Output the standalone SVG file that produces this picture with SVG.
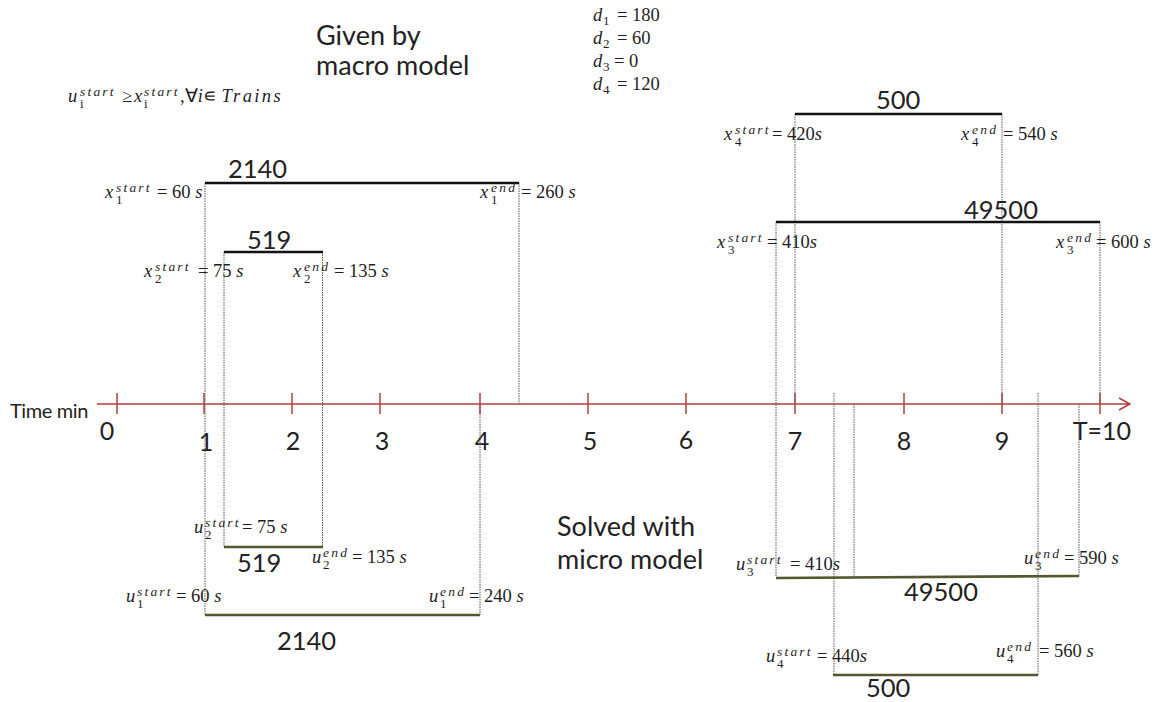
<svg xmlns="http://www.w3.org/2000/svg" width="1164" height="702" viewBox="0 0 1164 702">
<style>
.m{font-family:"Liberation Serif",serif;font-size:18.5px;fill:#1e1e1e}
.i{font-style:italic}
.sc{font-size:13.5px;font-style:italic;letter-spacing:2.2px}
.sb{font-size:13px;font-style:normal;letter-spacing:0}
.t{font-family:Lato,"Liberation Sans",sans-serif;fill:#222}
.big{font-size:25.5px}
.ax{font-size:25px;text-anchor:middle}
.lg{font-size:27px}
.vl{stroke:#555;stroke-width:1;stroke-dasharray:1.5 1;fill:none}
.xl{stroke:#111;stroke-width:2.6}
.ul{stroke:#55562f;stroke-width:2.6}
.axis{stroke:#b0413e;stroke-width:1.5;fill:none}
</style>
<rect width="1164" height="702" fill="#fff"/>

<g id="notes">
<text class="t lg" x="316" y="45">Given by</text>
<text class="t lg" x="316" y="75">macro model</text>
<text class="t lg" x="557" y="536">Solved with</text>
<text class="t lg" x="557" y="569">micro model</text>
<text class="m" x="68" y="102" font-size="17.5"><tspan class="i">u</tspan><tspan class="sc" x="80" y="96">start</tspan><tspan class="sb" x="80" y="108">i</tspan><tspan x="122" y="102">≥</tspan><tspan class="i" x="134" y="102">x</tspan><tspan class="sc" x="144" y="96">start</tspan><tspan class="sb" x="144" y="108">i</tspan><tspan x="180" y="102">,∀</tspan><tspan class="i">i</tspan><tspan>∊ </tspan><tspan class="i" letter-spacing="2.4">Trains</tspan></text>
<text class="m" x="593" y="21"><tspan class="i">d</tspan><tspan class="sb" x="603" y="25">1</tspan><tspan x="617" y="21">= 180</tspan></text>
<text class="m" x="593" y="44"><tspan class="i">d</tspan><tspan class="sb" x="603" y="48">2</tspan><tspan x="617" y="44">= 60</tspan></text>
<text class="m" x="593" y="67"><tspan class="i">d</tspan><tspan class="sb" x="603" y="71">3</tspan><tspan x="614" y="67">= 0</tspan></text>
<text class="m" x="593" y="90"><tspan class="i">d</tspan><tspan class="sb" x="603" y="94">4</tspan><tspan x="617" y="90">= 120</tspan></text>
</g>

<g id="axis">
<text class="t" x="10" y="418" font-size="20" letter-spacing="-0.4">Time min</text>
<path class="axis" d="M97 404H1130M1119 398L1130 404L1119 410"/>
<path class="axis" d="M117 393V414M204 393V414M292 393V414M380 393V414M480 393V414M588 393V414M686 393V414M795 393V414M904 393V414M1002 393V414M1100 393V414"/>
<text class="t ax" x="107" y="440">0</text>
<text class="t ax" x="206" y="451">1</text>
<text class="t ax" x="293" y="450">2</text>
<text class="t ax" x="382" y="450">3</text>
<text class="t ax" x="482" y="450">4</text>
<text class="t ax" x="590" y="450">5</text>
<text class="t ax" x="686" y="449">6</text>
<text class="t ax" x="795" y="450">7</text>
<text class="t ax" x="904" y="450">8</text>
<text class="t ax" x="1002" y="450">9</text>
<text class="t ax" x="1102" y="440">T=10</text>
</g>

<g id="connectors">
<path class="vl" d="M205 183V615M224 252V547M322.5 252V547M519 183V404M480 404V615"/>
<path class="vl" d="M776 222V577M795 114V404M1002 114V404M1100 222V404M834 393V675M854 404V577M1038 393V675M1079 404V577"/>
</g>

<g id="x1">
<line class="xl" x1="205" y1="183" x2="519" y2="183"/>
<text class="t big" x="228" y="178">2140</text>
<text class="m" x="105" y="198"><tspan class="i">x</tspan><tspan class="sc" x="116" y="192">start</tspan><tspan class="sb" x="116" y="204">1</tspan><tspan x="157" y="198">= 60 </tspan><tspan class="i">s</tspan></text>
<text class="m" x="480" y="198"><tspan class="i">x</tspan><tspan class="sc" x="491" y="192">end</tspan><tspan class="sb" x="491" y="204">1</tspan><tspan x="521" y="198">= 260 </tspan><tspan class="i">s</tspan></text>
</g>

<g id="x2">
<line class="xl" x1="224" y1="252" x2="323" y2="252"/>
<text class="t big" x="247" y="249">519</text>
<text class="m" x="144" y="277"><tspan class="i">x</tspan><tspan class="sc" x="155" y="271">start</tspan><tspan class="sb" x="155" y="283">2</tspan><tspan x="198" y="277">= 75 </tspan><tspan class="i">s</tspan></text>
<text class="m" x="293" y="277"><tspan class="i">x</tspan><tspan class="sc" x="304" y="271">end</tspan><tspan class="sb" x="304" y="283">2</tspan><tspan x="334" y="277">= 135 </tspan><tspan class="i">s</tspan></text>
</g>

<g id="x4">
<line class="xl" x1="795" y1="114" x2="1002" y2="114"/>
<text class="t big" x="876" y="109">500</text>
<text class="m" x="724" y="140"><tspan class="i">x</tspan><tspan class="sc" x="735" y="134">start</tspan><tspan class="sb" x="735" y="146">4</tspan><tspan x="772" y="140">= 420</tspan><tspan class="i">s</tspan></text>
<text class="m" x="961" y="140"><tspan class="i">x</tspan><tspan class="sc" x="972" y="134">end</tspan><tspan class="sb" x="972" y="146">4</tspan><tspan x="1003" y="140">= 540 </tspan><tspan class="i">s</tspan></text>
</g>

<g id="x3">
<line class="xl" x1="776" y1="222" x2="1100" y2="222"/>
<text class="t big" x="964" y="219">49500</text>
<text class="m" x="717" y="248"><tspan class="i">x</tspan><tspan class="sc" x="728" y="242">start</tspan><tspan class="sb" x="728" y="254">3</tspan><tspan x="767" y="248">= 410</tspan><tspan class="i">s</tspan></text>
<text class="m" x="1056" y="248"><tspan class="i">x</tspan><tspan class="sc" x="1067" y="242">end</tspan><tspan class="sb" x="1067" y="254">3</tspan><tspan x="1096" y="248">= 600 </tspan><tspan class="i">s</tspan></text>
</g>

<g id="u2">
<line class="ul" x1="224" y1="547" x2="323" y2="547"/>
<text class="t big" x="237" y="572">519</text>
<text class="m" x="194" y="533"><tspan class="i">u</tspan><tspan class="sc" x="205" y="527">start</tspan><tspan class="sb" x="205" y="539">2</tspan><tspan x="242" y="533">= 75 </tspan><tspan class="i">s</tspan></text>
<text class="m" x="312" y="563"><tspan class="i">u</tspan><tspan class="sc" x="323" y="557">end</tspan><tspan class="sb" x="323" y="569">2</tspan><tspan x="352" y="563">= 135 </tspan><tspan class="i">s</tspan></text>
</g>

<g id="u1">
<line class="ul" x1="205" y1="615" x2="480" y2="615"/>
<text class="t big" x="277" y="650">2140</text>
<text class="m" x="126" y="602"><tspan class="i">u</tspan><tspan class="sc" x="137" y="596">start</tspan><tspan class="sb" x="137" y="608">1</tspan><tspan x="176" y="602">= 60 </tspan><tspan class="i">s</tspan></text>
<text class="m" x="429" y="602"><tspan class="i">u</tspan><tspan class="sc" x="440" y="596">end</tspan><tspan class="sb" x="440" y="608">1</tspan><tspan x="469" y="602">= 240 </tspan><tspan class="i">s</tspan></text>
</g>

<g id="u3">
<line class="ul" x1="776" y1="578" x2="1079" y2="576"/>
<text class="t big" x="904" y="601">49500</text>
<text class="m" x="736" y="570"><tspan class="i">u</tspan><tspan class="sc" x="747" y="564">start</tspan><tspan class="sb" x="747" y="576">3</tspan><tspan x="790" y="570">= 410</tspan><tspan class="i">s</tspan></text>
<text class="m" x="1024" y="564"><tspan class="i">u</tspan><tspan class="sc" x="1035" y="558">end</tspan><tspan class="sb" x="1035" y="570">3</tspan><tspan x="1064" y="564">= 590 </tspan><tspan class="i">s</tspan></text>
</g>

<g id="u4">
<line class="ul" x1="833" y1="675" x2="1038" y2="675"/>
<text class="t big" x="866" y="697">500</text>
<text class="m" x="766" y="662"><tspan class="i">u</tspan><tspan class="sc" x="777" y="656">start</tspan><tspan class="sb" x="777" y="668">4</tspan><tspan x="817" y="662">= 440</tspan><tspan class="i">s</tspan></text>
<text class="m" x="996" y="657"><tspan class="i">u</tspan><tspan class="sc" x="1007" y="651">end</tspan><tspan class="sb" x="1007" y="663">4</tspan><tspan x="1039" y="657">= 560 </tspan><tspan class="i">s</tspan></text>
</g>
</svg>
